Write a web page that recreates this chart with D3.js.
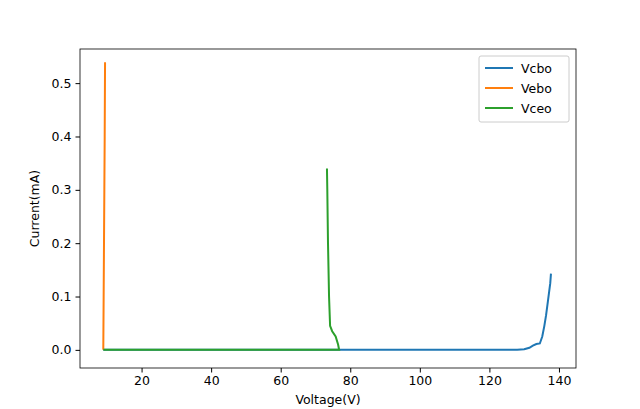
<!DOCTYPE html>
<html><head><meta charset="utf-8">
<script src="https://cdn.jsdelivr.net/npm/d3@7"></script>
<style>body{margin:0;background:#fff}text{font-family:"DejaVu Sans",sans-serif}</style>
</head><body><div id="chart"></div>
<script>
// series data
var vcboX = [9, 20, 40, 60, 80, 100, 120, 128, 130, 131.5, 132.5, 133.5, 134.5, 135.2, 135.8, 136.3, 136.8, 137.2, 137.5, 137.7];
var vcboY = [0, 0, 0, 0, 0, 0, 0, 0, 0.001, 0.004, 0.008, 0.011, 0.012, 0.025, 0.045, 0.065, 0.09, 0.11, 0.125, 0.143];
var veboX = [9.0, 9.1, 9.2, 9.3, 9.4, 9.5];
var veboY = [0, 0.1, 0.2, 0.3, 0.4, 0.539];
var vceoX = [9, 20, 40, 60, 76.8, 76.5, 75.8, 74.8, 74.2, 73.9, 73.6, 73.4, 73.3];
var vceoY = [0, 0, 0, 0, 0, 0.01, 0.025, 0.035, 0.045, 0.1, 0.2, 0.3, 0.34];
var xTicks = [20, 40, 60, 80, 100, 120, 140];
var yTicks = [0.0, 0.1, 0.2, 0.3, 0.4, 0.5];
var names = ["Vcbo", "Vebo", "Vceo"];
var colors = ["#1f77b4", "#ff7f0e", "#2ca02c"];

var width = 640, height = 409;
var m = {left: 80, right: 64, top: 49, bottom: 41};
var fs = 12.5;

var svg = d3.select("#chart").append("svg")
  .attr("width", width).attr("height", height);

var x = d3.scaleLinear().domain([2.3, 144.9]).range([m.left, width - m.right]);
var y = d3.scaleLinear().domain([-0.034, 0.564]).range([height - m.bottom, m.top]);

svg.append("g").attr("transform", "translate(0," + (height - m.bottom) + ")")
  .call(d3.axisBottom(x).tickValues(xTicks).tickSize(4.5).tickPadding(4).tickFormat(d3.format("d")));
svg.append("g").attr("transform", "translate(" + m.left + ",0)")
  .call(d3.axisLeft(y).tickValues(yTicks).tickSize(4.5).tickPadding(4).tickFormat(d3.format(".1f")));
svg.selectAll(".tick text").attr("font-size", fs).attr("fill", "#000");
svg.selectAll(".domain").remove();
svg.append("rect").attr("x", m.left).attr("y", m.top)
  .attr("width", width - m.left - m.right).attr("height", height - m.top - m.bottom)
  .attr("fill", "none").attr("stroke", "#000").attr("stroke-width", 0.8);

var series = [[vcboX, vcboY], [veboX, veboY], [vceoX, vceoY]];
var line = d3.line().x(function(d){ return x(d[0]); }).y(function(d){ return y(d[1]); });
series.forEach(function(s, i) {
  svg.append("path").datum(d3.zip(s[0], s[1]))
    .attr("d", line).attr("fill", "none").attr("stroke", colors[i]).attr("stroke-width", 2);
});

svg.append("text").attr("x", (m.left + width - m.right) / 2).attr("y", 404)
  .attr("text-anchor", "middle").attr("font-size", fs).text("Voltage(V)");
svg.append("text").attr("transform", "translate(39," + ((m.top + height - m.bottom) / 2) + ") rotate(-90)")
  .attr("text-anchor", "middle").attr("font-size", fs).text("Current(mA)");

var lg = svg.append("g").attr("transform", "translate(479,56)");
lg.append("rect").attr("width", 90).attr("height", 66).attr("rx", 2)
  .attr("fill", "#fff").attr("stroke", "#ccc");
names.forEach(function(n, i) {
  var yy = 12 + i * 20;
  lg.append("line").attr("x1", 6).attr("x2", 34).attr("y1", yy).attr("y2", yy)
    .attr("stroke", colors[i]).attr("stroke-width", 2);
  lg.append("text").attr("x", 42).attr("y", yy + 4.5).attr("font-size", fs).text(n);
});
</script></body></html>
